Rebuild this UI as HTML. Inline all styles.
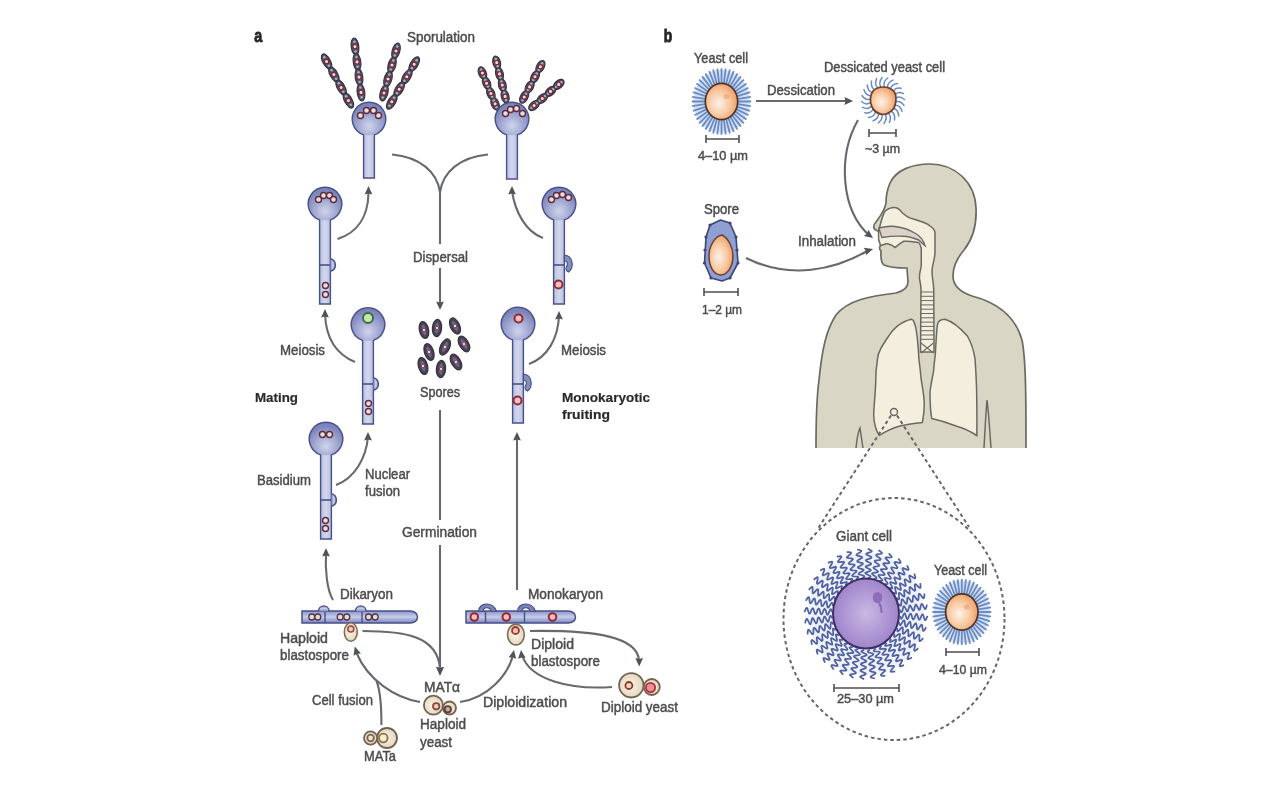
<!DOCTYPE html><html><head><meta charset="utf-8"><style>html,body{margin:0;padding:0;background:#fff;width:1280px;height:800px;overflow:hidden}svg{display:block;filter:blur(0.45px);font-family:"Liberation Sans",sans-serif}</style></head><body>
<svg width="1280" height="800" viewBox="0 0 1280 800">
<defs>
<linearGradient id="stemg" x1="0" x2="1" y1="0" y2="0"><stop offset="0" stop-color="#7d86bc"/><stop offset="0.5" stop-color="#d4d8ee"/><stop offset="1" stop-color="#7d86bc"/></linearGradient>
<radialGradient id="headg" cx="0.5" cy="0.72" r="0.62"><stop offset="0" stop-color="#d0d4ec"/><stop offset="1" stop-color="#7c85bb"/></radialGradient>
<linearGradient id="hyph" x1="0" x2="0" y1="0" y2="1"><stop offset="0" stop-color="#8a93c6"/><stop offset="0.5" stop-color="#c8cdea"/><stop offset="1" stop-color="#7a84bb"/></linearGradient>
<radialGradient id="orang" cx="0.42" cy="0.55" r="0.62"><stop offset="0" stop-color="#fdf2ea"/><stop offset="0.55" stop-color="#f8c8a0"/><stop offset="1" stop-color="#ec9860"/></radialGradient>
<radialGradient id="purp" cx="0.5" cy="0.5" r="0.55"><stop offset="0" stop-color="#cbb8e4"/><stop offset="1" stop-color="#9a80c8"/></radialGradient>
<radialGradient id="beige" cx="0.45" cy="0.5" r="0.6"><stop offset="0" stop-color="#faf4e8"/><stop offset="1" stop-color="#e2d2b8"/></radialGradient>
</defs>

<text x="254.3" y="42.3" font-size="19" font-weight="bold" fill="#262626" stroke="#262626" stroke-width="0.9" textLength="8" lengthAdjust="spacingAndGlyphs">a</text>
<text x="407" y="42.0" font-size="14" font-weight="normal" fill="#4c4c4c" stroke="#4c4c4c" stroke-width="0.45" textLength="68" lengthAdjust="spacingAndGlyphs">Sporulation</text>
<text x="413" y="262.0" font-size="14" font-weight="normal" fill="#4c4c4c" stroke="#4c4c4c" stroke-width="0.45" textLength="55" lengthAdjust="spacingAndGlyphs">Dispersal</text>
<text x="280" y="355.0" font-size="14" font-weight="normal" fill="#4c4c4c" stroke="#4c4c4c" stroke-width="0.45" textLength="45" lengthAdjust="spacingAndGlyphs">Meiosis</text>
<text x="255" y="401.9" font-size="13.5" font-weight="bold" fill="#2a2a2a" stroke="#2a2a2a" stroke-width="0.2" textLength="43" lengthAdjust="spacingAndGlyphs">Mating</text>
<text x="420" y="397.0" font-size="14" font-weight="normal" fill="#4c4c4c" stroke="#4c4c4c" stroke-width="0.45" textLength="40" lengthAdjust="spacingAndGlyphs">Spores</text>
<text x="561" y="355.0" font-size="14" font-weight="normal" fill="#4c4c4c" stroke="#4c4c4c" stroke-width="0.45" textLength="45" lengthAdjust="spacingAndGlyphs">Meiosis</text>
<text x="562" y="401.9" font-size="13.5" font-weight="bold" fill="#2a2a2a" stroke="#2a2a2a" stroke-width="0.2" textLength="88" lengthAdjust="spacingAndGlyphs">Monokaryotic</text>
<text x="562" y="418.9" font-size="13.5" font-weight="bold" fill="#2a2a2a" stroke="#2a2a2a" stroke-width="0.2" textLength="48" lengthAdjust="spacingAndGlyphs">fruiting</text>
<text x="257" y="485.0" font-size="14" font-weight="normal" fill="#4c4c4c" stroke="#4c4c4c" stroke-width="0.45" textLength="54" lengthAdjust="spacingAndGlyphs">Basidium</text>
<text x="365" y="479.0" font-size="14" font-weight="normal" fill="#4c4c4c" stroke="#4c4c4c" stroke-width="0.45" textLength="45" lengthAdjust="spacingAndGlyphs">Nuclear</text>
<text x="365" y="496.0" font-size="14" font-weight="normal" fill="#4c4c4c" stroke="#4c4c4c" stroke-width="0.45" textLength="35" lengthAdjust="spacingAndGlyphs">fusion</text>
<text x="402" y="537.0" font-size="14" font-weight="normal" fill="#4c4c4c" stroke="#4c4c4c" stroke-width="0.45" textLength="75" lengthAdjust="spacingAndGlyphs">Germination</text>
<text x="340" y="599.0" font-size="14" font-weight="normal" fill="#4c4c4c" stroke="#4c4c4c" stroke-width="0.45" textLength="53" lengthAdjust="spacingAndGlyphs">Dikaryon</text>
<text x="528" y="599.0" font-size="14" font-weight="normal" fill="#4c4c4c" stroke="#4c4c4c" stroke-width="0.45" textLength="75" lengthAdjust="spacingAndGlyphs">Monokaryon</text>
<text x="280" y="643.0" font-size="14" font-weight="normal" fill="#4c4c4c" stroke="#4c4c4c" stroke-width="0.45" textLength="48" lengthAdjust="spacingAndGlyphs">Haploid</text>
<text x="280" y="660.0" font-size="14" font-weight="normal" fill="#4c4c4c" stroke="#4c4c4c" stroke-width="0.45" textLength="69" lengthAdjust="spacingAndGlyphs">blastospore</text>
<text x="531" y="649.0" font-size="14" font-weight="normal" fill="#4c4c4c" stroke="#4c4c4c" stroke-width="0.45" textLength="43" lengthAdjust="spacingAndGlyphs">Diploid</text>
<text x="531" y="666.0" font-size="14" font-weight="normal" fill="#4c4c4c" stroke="#4c4c4c" stroke-width="0.45" textLength="69" lengthAdjust="spacingAndGlyphs">blastospore</text>
<text x="424" y="692.0" font-size="14" font-weight="normal" fill="#4c4c4c" stroke="#4c4c4c" stroke-width="0.45" textLength="36" lengthAdjust="spacingAndGlyphs">MATα</text>
<text x="312" y="705.0" font-size="14" font-weight="normal" fill="#4c4c4c" stroke="#4c4c4c" stroke-width="0.45" textLength="61" lengthAdjust="spacingAndGlyphs">Cell fusion</text>
<text x="483" y="707.0" font-size="14" font-weight="normal" fill="#4c4c4c" stroke="#4c4c4c" stroke-width="0.45" textLength="84" lengthAdjust="spacingAndGlyphs">Diploidization</text>
<text x="601" y="712.0" font-size="14" font-weight="normal" fill="#4c4c4c" stroke="#4c4c4c" stroke-width="0.45" textLength="77" lengthAdjust="spacingAndGlyphs">Diploid yeast</text>
<text x="420" y="729.0" font-size="14" font-weight="normal" fill="#4c4c4c" stroke="#4c4c4c" stroke-width="0.45" textLength="46" lengthAdjust="spacingAndGlyphs">Haploid</text>
<text x="420" y="747.0" font-size="14" font-weight="normal" fill="#4c4c4c" stroke="#4c4c4c" stroke-width="0.45" textLength="32" lengthAdjust="spacingAndGlyphs">yeast</text>
<text x="364" y="761.0" font-size="14" font-weight="normal" fill="#4c4c4c" stroke="#4c4c4c" stroke-width="0.45" textLength="32" lengthAdjust="spacingAndGlyphs">MATa</text>
<ellipse cx="326.6" cy="61.5" rx="8.4" ry="3.8" transform="rotate(60.9 326.6 61.5)" fill="#544e62" stroke="#35303f" stroke-width="1.1"/>
<ellipse cx="333.9" cy="74.5" rx="8.4" ry="3.8" transform="rotate(60.9 333.9 74.5)" fill="#544e62" stroke="#35303f" stroke-width="1.1"/>
<ellipse cx="341.1" cy="87.5" rx="8.4" ry="3.8" transform="rotate(60.9 341.1 87.5)" fill="#544e62" stroke="#35303f" stroke-width="1.1"/>
<ellipse cx="348.4" cy="100.5" rx="8.4" ry="3.8" transform="rotate(60.9 348.4 100.5)" fill="#544e62" stroke="#35303f" stroke-width="1.1"/>
<circle cx="324.3" cy="57.3" r="1.3" fill="#b0acb8"/>
<circle cx="328.9" cy="65.7" r="1.3" fill="#b0acb8"/>
<circle cx="326.6" cy="61.5" r="2.1" fill="#f0dcdc" stroke="#7a2838" stroke-width="1.1"/>
<circle cx="331.6" cy="70.3" r="1.3" fill="#b0acb8"/>
<circle cx="336.2" cy="78.7" r="1.3" fill="#b0acb8"/>
<circle cx="333.9" cy="74.5" r="2.1" fill="#f0dcdc" stroke="#7a2838" stroke-width="1.1"/>
<circle cx="338.8" cy="83.3" r="1.3" fill="#b0acb8"/>
<circle cx="343.4" cy="91.7" r="1.3" fill="#b0acb8"/>
<circle cx="341.1" cy="87.5" r="2.1" fill="#f0dcdc" stroke="#7a2838" stroke-width="1.1"/>
<circle cx="346.1" cy="96.3" r="1.3" fill="#b0acb8"/>
<circle cx="350.7" cy="104.7" r="1.3" fill="#b0acb8"/>
<circle cx="348.4" cy="100.5" r="2.1" fill="#f0dcdc" stroke="#7a2838" stroke-width="1.1"/>
<ellipse cx="355.0" cy="46.6" rx="8.7" ry="3.8" transform="rotate(82.5 355.0 46.6)" fill="#544e62" stroke="#35303f" stroke-width="1.1"/>
<ellipse cx="357.0" cy="61.9" rx="8.7" ry="3.8" transform="rotate(82.5 357.0 61.9)" fill="#544e62" stroke="#35303f" stroke-width="1.1"/>
<ellipse cx="359.0" cy="77.1" rx="8.7" ry="3.8" transform="rotate(82.5 359.0 77.1)" fill="#544e62" stroke="#35303f" stroke-width="1.1"/>
<ellipse cx="361.0" cy="92.4" rx="8.7" ry="3.8" transform="rotate(82.5 361.0 92.4)" fill="#544e62" stroke="#35303f" stroke-width="1.1"/>
<circle cx="354.4" cy="41.7" r="1.3" fill="#b0acb8"/>
<circle cx="355.6" cy="51.5" r="1.3" fill="#b0acb8"/>
<circle cx="355.0" cy="46.6" r="2.1" fill="#f0dcdc" stroke="#7a2838" stroke-width="1.1"/>
<circle cx="356.4" cy="57.0" r="1.3" fill="#b0acb8"/>
<circle cx="357.6" cy="66.8" r="1.3" fill="#b0acb8"/>
<circle cx="357.0" cy="61.9" r="2.1" fill="#f0dcdc" stroke="#7a2838" stroke-width="1.1"/>
<circle cx="358.4" cy="72.2" r="1.3" fill="#b0acb8"/>
<circle cx="359.6" cy="82.0" r="1.3" fill="#b0acb8"/>
<circle cx="359.0" cy="77.1" r="2.1" fill="#f0dcdc" stroke="#7a2838" stroke-width="1.1"/>
<circle cx="360.4" cy="87.5" r="1.3" fill="#b0acb8"/>
<circle cx="361.6" cy="97.3" r="1.3" fill="#b0acb8"/>
<circle cx="361.0" cy="92.4" r="2.1" fill="#f0dcdc" stroke="#7a2838" stroke-width="1.1"/>
<ellipse cx="396.0" cy="51.0" rx="8.3" ry="3.8" transform="rotate(105.9 396.0 51.0)" fill="#544e62" stroke="#35303f" stroke-width="1.1"/>
<ellipse cx="392.0" cy="65.0" rx="8.3" ry="3.8" transform="rotate(105.9 392.0 65.0)" fill="#544e62" stroke="#35303f" stroke-width="1.1"/>
<ellipse cx="388.0" cy="79.0" rx="8.3" ry="3.8" transform="rotate(105.9 388.0 79.0)" fill="#544e62" stroke="#35303f" stroke-width="1.1"/>
<ellipse cx="384.0" cy="93.0" rx="8.3" ry="3.8" transform="rotate(105.9 384.0 93.0)" fill="#544e62" stroke="#35303f" stroke-width="1.1"/>
<circle cx="397.3" cy="46.5" r="1.3" fill="#b0acb8"/>
<circle cx="394.7" cy="55.5" r="1.3" fill="#b0acb8"/>
<circle cx="396.0" cy="51.0" r="2.1" fill="#f0dcdc" stroke="#7a2838" stroke-width="1.1"/>
<circle cx="393.3" cy="60.5" r="1.3" fill="#b0acb8"/>
<circle cx="390.7" cy="69.5" r="1.3" fill="#b0acb8"/>
<circle cx="392.0" cy="65.0" r="2.1" fill="#f0dcdc" stroke="#7a2838" stroke-width="1.1"/>
<circle cx="389.3" cy="74.5" r="1.3" fill="#b0acb8"/>
<circle cx="386.7" cy="83.5" r="1.3" fill="#b0acb8"/>
<circle cx="388.0" cy="79.0" r="2.1" fill="#f0dcdc" stroke="#7a2838" stroke-width="1.1"/>
<circle cx="385.3" cy="88.5" r="1.3" fill="#b0acb8"/>
<circle cx="382.7" cy="97.5" r="1.3" fill="#b0acb8"/>
<circle cx="384.0" cy="93.0" r="2.1" fill="#f0dcdc" stroke="#7a2838" stroke-width="1.1"/>
<ellipse cx="414.2" cy="64.2" rx="8.3" ry="3.8" transform="rotate(121.0 414.2 64.2)" fill="#544e62" stroke="#35303f" stroke-width="1.1"/>
<ellipse cx="406.8" cy="76.8" rx="8.3" ry="3.8" transform="rotate(121.0 406.8 76.8)" fill="#544e62" stroke="#35303f" stroke-width="1.1"/>
<ellipse cx="399.2" cy="89.2" rx="8.3" ry="3.8" transform="rotate(121.0 399.2 89.2)" fill="#544e62" stroke="#35303f" stroke-width="1.1"/>
<ellipse cx="391.8" cy="101.8" rx="8.3" ry="3.8" transform="rotate(121.0 391.8 101.8)" fill="#544e62" stroke="#35303f" stroke-width="1.1"/>
<circle cx="416.6" cy="60.2" r="1.3" fill="#b0acb8"/>
<circle cx="411.9" cy="68.2" r="1.3" fill="#b0acb8"/>
<circle cx="414.2" cy="64.2" r="2.1" fill="#f0dcdc" stroke="#7a2838" stroke-width="1.1"/>
<circle cx="409.1" cy="72.8" r="1.3" fill="#b0acb8"/>
<circle cx="404.4" cy="80.8" r="1.3" fill="#b0acb8"/>
<circle cx="406.8" cy="76.8" r="2.1" fill="#f0dcdc" stroke="#7a2838" stroke-width="1.1"/>
<circle cx="401.6" cy="85.2" r="1.3" fill="#b0acb8"/>
<circle cx="396.9" cy="93.2" r="1.3" fill="#b0acb8"/>
<circle cx="399.2" cy="89.2" r="2.1" fill="#f0dcdc" stroke="#7a2838" stroke-width="1.1"/>
<circle cx="394.1" cy="97.8" r="1.3" fill="#b0acb8"/>
<circle cx="389.4" cy="105.8" r="1.3" fill="#b0acb8"/>
<circle cx="391.8" cy="101.8" r="2.1" fill="#f0dcdc" stroke="#7a2838" stroke-width="1.1"/>
<path d="M363.6,178 L363.6,134.9 A16.8,16.8 0 1 1 374.4,134.9 L374.4,178 Z" fill="url(#stemg)" stroke="none"/>
<circle cx="369" cy="119" r="16.3" fill="url(#headg)"/>
<path d="M363.6,178 L363.6,134.9 A16.8,16.8 0 1 1 374.4,134.9 L374.4,178 Z" fill="none" stroke="#48508a" stroke-width="1.4"/>
<circle cx="360.5" cy="115.5" r="3" fill="#e6dede" stroke="#5e2a3c" stroke-width="1.4"/>
<circle cx="366.5" cy="110.5" r="3" fill="#e6dede" stroke="#5e2a3c" stroke-width="1.4"/>
<circle cx="373.5" cy="110.5" r="3" fill="#e6dede" stroke="#5e2a3c" stroke-width="1.4"/>
<circle cx="378.5" cy="115.5" r="3" fill="#e6dede" stroke="#5e2a3c" stroke-width="1.4"/>
<ellipse cx="482.4" cy="73.0" rx="6.6" ry="3.8" transform="rotate(67.7 482.4 73.0)" fill="#544e62" stroke="#35303f" stroke-width="1.1"/>
<ellipse cx="486.6" cy="83.2" rx="6.6" ry="3.8" transform="rotate(67.7 486.6 83.2)" fill="#544e62" stroke="#35303f" stroke-width="1.1"/>
<ellipse cx="490.9" cy="93.5" rx="6.6" ry="3.8" transform="rotate(67.7 490.9 93.5)" fill="#544e62" stroke="#35303f" stroke-width="1.1"/>
<ellipse cx="495.1" cy="103.8" rx="6.6" ry="3.8" transform="rotate(67.7 495.1 103.8)" fill="#544e62" stroke="#35303f" stroke-width="1.1"/>
<circle cx="481.1" cy="69.7" r="1.3" fill="#b0acb8"/>
<circle cx="483.8" cy="76.2" r="1.3" fill="#b0acb8"/>
<circle cx="482.4" cy="73.0" r="2.1" fill="#f0dcdc" stroke="#7a2838" stroke-width="1.1"/>
<circle cx="485.3" cy="80.0" r="1.3" fill="#b0acb8"/>
<circle cx="488.0" cy="86.5" r="1.3" fill="#b0acb8"/>
<circle cx="486.6" cy="83.2" r="2.1" fill="#f0dcdc" stroke="#7a2838" stroke-width="1.1"/>
<circle cx="489.5" cy="90.3" r="1.3" fill="#b0acb8"/>
<circle cx="492.2" cy="96.8" r="1.3" fill="#b0acb8"/>
<circle cx="490.9" cy="93.5" r="2.1" fill="#f0dcdc" stroke="#7a2838" stroke-width="1.1"/>
<circle cx="493.7" cy="100.6" r="1.3" fill="#b0acb8"/>
<circle cx="496.4" cy="107.1" r="1.3" fill="#b0acb8"/>
<circle cx="495.1" cy="103.8" r="2.1" fill="#f0dcdc" stroke="#7a2838" stroke-width="1.1"/>
<ellipse cx="496.7" cy="62.6" rx="6.8" ry="3.8" transform="rotate(76.0 496.7 62.6)" fill="#544e62" stroke="#35303f" stroke-width="1.1"/>
<ellipse cx="499.5" cy="73.9" rx="6.8" ry="3.8" transform="rotate(76.0 499.5 73.9)" fill="#544e62" stroke="#35303f" stroke-width="1.1"/>
<ellipse cx="502.3" cy="85.1" rx="6.8" ry="3.8" transform="rotate(76.0 502.3 85.1)" fill="#544e62" stroke="#35303f" stroke-width="1.1"/>
<ellipse cx="505.1" cy="96.4" rx="6.8" ry="3.8" transform="rotate(76.0 505.1 96.4)" fill="#544e62" stroke="#35303f" stroke-width="1.1"/>
<circle cx="495.8" cy="59.0" r="1.3" fill="#b0acb8"/>
<circle cx="497.6" cy="66.2" r="1.3" fill="#b0acb8"/>
<circle cx="496.7" cy="62.6" r="2.1" fill="#f0dcdc" stroke="#7a2838" stroke-width="1.1"/>
<circle cx="498.6" cy="70.3" r="1.3" fill="#b0acb8"/>
<circle cx="500.4" cy="77.5" r="1.3" fill="#b0acb8"/>
<circle cx="499.5" cy="73.9" r="2.1" fill="#f0dcdc" stroke="#7a2838" stroke-width="1.1"/>
<circle cx="501.4" cy="81.5" r="1.3" fill="#b0acb8"/>
<circle cx="503.2" cy="88.7" r="1.3" fill="#b0acb8"/>
<circle cx="502.3" cy="85.1" r="2.1" fill="#f0dcdc" stroke="#7a2838" stroke-width="1.1"/>
<circle cx="504.2" cy="92.8" r="1.3" fill="#b0acb8"/>
<circle cx="506.0" cy="100.0" r="1.3" fill="#b0acb8"/>
<circle cx="505.1" cy="96.4" r="2.1" fill="#f0dcdc" stroke="#7a2838" stroke-width="1.1"/>
<ellipse cx="540.4" cy="66.7" rx="6.7" ry="3.8" transform="rotate(118.2 540.4 66.7)" fill="#544e62" stroke="#35303f" stroke-width="1.1"/>
<ellipse cx="535.0" cy="76.8" rx="6.7" ry="3.8" transform="rotate(118.2 535.0 76.8)" fill="#544e62" stroke="#35303f" stroke-width="1.1"/>
<ellipse cx="529.6" cy="86.9" rx="6.7" ry="3.8" transform="rotate(118.2 529.6 86.9)" fill="#544e62" stroke="#35303f" stroke-width="1.1"/>
<ellipse cx="524.2" cy="97.0" rx="6.7" ry="3.8" transform="rotate(118.2 524.2 97.0)" fill="#544e62" stroke="#35303f" stroke-width="1.1"/>
<circle cx="542.1" cy="63.5" r="1.3" fill="#b0acb8"/>
<circle cx="538.7" cy="70.0" r="1.3" fill="#b0acb8"/>
<circle cx="540.4" cy="66.7" r="2.1" fill="#f0dcdc" stroke="#7a2838" stroke-width="1.1"/>
<circle cx="536.7" cy="73.6" r="1.3" fill="#b0acb8"/>
<circle cx="533.3" cy="80.0" r="1.3" fill="#b0acb8"/>
<circle cx="535.0" cy="76.8" r="2.1" fill="#f0dcdc" stroke="#7a2838" stroke-width="1.1"/>
<circle cx="531.3" cy="83.7" r="1.3" fill="#b0acb8"/>
<circle cx="527.9" cy="90.1" r="1.3" fill="#b0acb8"/>
<circle cx="529.6" cy="86.9" r="2.1" fill="#f0dcdc" stroke="#7a2838" stroke-width="1.1"/>
<circle cx="525.9" cy="93.7" r="1.3" fill="#b0acb8"/>
<circle cx="522.5" cy="100.2" r="1.3" fill="#b0acb8"/>
<circle cx="524.2" cy="97.0" r="2.1" fill="#f0dcdc" stroke="#7a2838" stroke-width="1.1"/>
<ellipse cx="558.7" cy="84.4" rx="6.4" ry="3.8" transform="rotate(139.4 558.7 84.4)" fill="#544e62" stroke="#35303f" stroke-width="1.1"/>
<ellipse cx="550.5" cy="91.4" rx="6.4" ry="3.8" transform="rotate(139.4 550.5 91.4)" fill="#544e62" stroke="#35303f" stroke-width="1.1"/>
<ellipse cx="542.3" cy="98.5" rx="6.4" ry="3.8" transform="rotate(139.4 542.3 98.5)" fill="#544e62" stroke="#35303f" stroke-width="1.1"/>
<ellipse cx="534.1" cy="105.5" rx="6.4" ry="3.8" transform="rotate(139.4 534.1 105.5)" fill="#544e62" stroke="#35303f" stroke-width="1.1"/>
<circle cx="561.3" cy="82.2" r="1.3" fill="#b0acb8"/>
<circle cx="556.1" cy="86.7" r="1.3" fill="#b0acb8"/>
<circle cx="558.7" cy="84.4" r="2.1" fill="#f0dcdc" stroke="#7a2838" stroke-width="1.1"/>
<circle cx="553.1" cy="89.2" r="1.3" fill="#b0acb8"/>
<circle cx="547.9" cy="93.7" r="1.3" fill="#b0acb8"/>
<circle cx="550.5" cy="91.4" r="2.1" fill="#f0dcdc" stroke="#7a2838" stroke-width="1.1"/>
<circle cx="544.9" cy="96.2" r="1.3" fill="#b0acb8"/>
<circle cx="539.7" cy="100.7" r="1.3" fill="#b0acb8"/>
<circle cx="542.3" cy="98.5" r="2.1" fill="#f0dcdc" stroke="#7a2838" stroke-width="1.1"/>
<circle cx="536.7" cy="103.2" r="1.3" fill="#b0acb8"/>
<circle cx="531.5" cy="107.7" r="1.3" fill="#b0acb8"/>
<circle cx="534.1" cy="105.5" r="2.1" fill="#f0dcdc" stroke="#7a2838" stroke-width="1.1"/>
<path d="M506.6,179 L506.6,134.9 A16.8,16.8 0 1 1 517.4,134.9 L517.4,179 Z" fill="url(#stemg)" stroke="none"/>
<circle cx="512" cy="119" r="16.3" fill="url(#headg)"/>
<path d="M506.6,179 L506.6,134.9 A16.8,16.8 0 1 1 517.4,134.9 L517.4,179 Z" fill="none" stroke="#48508a" stroke-width="1.4"/>
<circle cx="505.5" cy="113.5" r="3" fill="#e6dede" stroke="#5e2a3c" stroke-width="1.4"/>
<circle cx="510.5" cy="109.5" r="3" fill="#e6dede" stroke="#5e2a3c" stroke-width="1.4"/>
<circle cx="516.5" cy="108.5" r="3" fill="#e6dede" stroke="#5e2a3c" stroke-width="1.4"/>
<circle cx="522.5" cy="113.5" r="3" fill="#e6dede" stroke="#5e2a3c" stroke-width="1.4"/>
<path d="M392,154.5 C420,157 437,172 440,192 C443,172 460,157 488,154.5" fill="none" stroke="#66696d" stroke-width="2.1"/>
<line x1="440" y1="190" x2="440" y2="244" stroke="#66696d" stroke-width="2.1"/>
<path d="M440,268 L440,306" fill="none" stroke="#66696d" stroke-width="2.1" stroke-linecap="butt"/>
<path d="M440.0,310.0 L436.1,301.5 L440.0,302.5 L443.9,301.5 Z" fill="#505458"/>
<path d="M319.6,304 L319.6,219.9 A16.8,16.8 0 1 1 330.4,219.9 L330.4,304 Z" fill="url(#stemg)" stroke="none"/>
<circle cx="325" cy="204" r="16.3" fill="url(#headg)"/>
<path d="M319.6,304 L319.6,219.9 A16.8,16.8 0 1 1 330.4,219.9 L330.4,304 Z" fill="none" stroke="#48508a" stroke-width="1.4"/>
<line x1="319.6" y1="265" x2="330.4" y2="265" stroke="#48508a" stroke-width="1.6"/>
<path d="M330.4,259 A5,6 0 0 1 330.4,271" fill="url(#stemg)" stroke="#48508a" stroke-width="1.5"/>
<circle cx="318.5" cy="199.5" r="3" fill="#e6dede" stroke="#5e2a3c" stroke-width="1.4"/>
<circle cx="323.5" cy="195.5" r="3" fill="#e6dede" stroke="#5e2a3c" stroke-width="1.4"/>
<circle cx="329.5" cy="195.5" r="3" fill="#e6dede" stroke="#5e2a3c" stroke-width="1.4"/>
<circle cx="333.5" cy="199.5" r="3" fill="#e6dede" stroke="#5e2a3c" stroke-width="1.4"/>
<circle cx="325.5" cy="285.5" r="3" fill="#e6dede" stroke="#5e2a3c" stroke-width="1.4"/>
<circle cx="325.5" cy="294.5" r="3" fill="#e6dede" stroke="#5e2a3c" stroke-width="1.4"/>
<path d="M362.6,424 L362.6,340.4 A16.8,16.8 0 1 1 373.4,340.4 L373.4,424 Z" fill="url(#stemg)" stroke="none"/>
<circle cx="368" cy="324.5" r="16.3" fill="url(#headg)"/>
<path d="M362.6,424 L362.6,340.4 A16.8,16.8 0 1 1 373.4,340.4 L373.4,424 Z" fill="none" stroke="#48508a" stroke-width="1.4"/>
<line x1="362.6" y1="384" x2="373.4" y2="384" stroke="#48508a" stroke-width="1.6"/>
<path d="M373.4,378 A5,6 0 0 1 373.4,390" fill="url(#stemg)" stroke="#48508a" stroke-width="1.5"/>
<circle cx="368" cy="318" r="5" fill="#c4e8a8" stroke="#3f6a48" stroke-width="2"/>
<circle cx="368.5" cy="403.5" r="3" fill="#e6dede" stroke="#5e2a3c" stroke-width="1.4"/>
<circle cx="368.5" cy="411.5" r="3" fill="#e6dede" stroke="#5e2a3c" stroke-width="1.4"/>
<path d="M320.6,539 L320.6,454.9 A16.8,16.8 0 1 1 331.4,454.9 L331.4,539 Z" fill="url(#stemg)" stroke="none"/>
<circle cx="326" cy="439" r="16.3" fill="url(#headg)"/>
<path d="M320.6,539 L320.6,454.9 A16.8,16.8 0 1 1 331.4,454.9 L331.4,539 Z" fill="none" stroke="#48508a" stroke-width="1.4"/>
<line x1="320.6" y1="500" x2="331.4" y2="500" stroke="#48508a" stroke-width="1.6"/>
<path d="M331.4,494 A5,6 0 0 1 331.4,506" fill="url(#stemg)" stroke="#48508a" stroke-width="1.5"/>
<circle cx="322.5" cy="434.5" r="3" fill="#e6dede" stroke="#5e2a3c" stroke-width="1.4"/>
<circle cx="329.5" cy="434.5" r="3" fill="#e6dede" stroke="#5e2a3c" stroke-width="1.4"/>
<circle cx="325.5" cy="520.5" r="3" fill="#e6dede" stroke="#5e2a3c" stroke-width="1.4"/>
<circle cx="325.5" cy="528.5" r="3" fill="#e6dede" stroke="#5e2a3c" stroke-width="1.4"/>
<path d="M553.6,304 L553.6,219.9 A16.8,16.8 0 1 1 564.4,219.9 L564.4,304 Z" fill="url(#stemg)" stroke="none"/>
<circle cx="559" cy="204" r="16.3" fill="url(#headg)"/>
<path d="M553.6,304 L553.6,219.9 A16.8,16.8 0 1 1 564.4,219.9 L564.4,304 Z" fill="none" stroke="#48508a" stroke-width="1.4"/>
<line x1="553.6" y1="265" x2="564.4" y2="265" stroke="#48508a" stroke-width="1.6"/>
<path d="M564.4,255 C573.4,256 574.4,268 568.4,272 C566.4,271 565.4,269 566.4,267 C568.4,264 567.4,261 564.4,261 Z" fill="#858dbd" stroke="#48508a" stroke-width="1.2"/>
<circle cx="551.5" cy="199.5" r="3" fill="#e6dede" stroke="#5e2a3c" stroke-width="1.4"/>
<circle cx="556.5" cy="195.5" r="3" fill="#e6dede" stroke="#5e2a3c" stroke-width="1.4"/>
<circle cx="562.5" cy="194.5" r="3" fill="#e6dede" stroke="#5e2a3c" stroke-width="1.4"/>
<circle cx="568.5" cy="197.5" r="3" fill="#e6dede" stroke="#5e2a3c" stroke-width="1.4"/>
<circle cx="558.5" cy="284.5" r="4" fill="#f4c0bc" stroke="#922838" stroke-width="2"/>
<path d="M512.6,423 L512.6,339.9 A16.8,16.8 0 1 1 523.4,339.9 L523.4,423 Z" fill="url(#stemg)" stroke="none"/>
<circle cx="518" cy="324" r="16.3" fill="url(#headg)"/>
<path d="M512.6,423 L512.6,339.9 A16.8,16.8 0 1 1 523.4,339.9 L523.4,423 Z" fill="none" stroke="#48508a" stroke-width="1.4"/>
<line x1="512.6" y1="384" x2="523.4" y2="384" stroke="#48508a" stroke-width="1.6"/>
<path d="M523.4,374 C532.4,375 533.4,387 527.4,391 C525.4,390 524.4,388 525.4,386 C527.4,383 526.4,380 523.4,380 Z" fill="#858dbd" stroke="#48508a" stroke-width="1.2"/>
<circle cx="518.5" cy="318.5" r="4" fill="#f4c0bc" stroke="#922838" stroke-width="2"/>
<circle cx="517.5" cy="400.5" r="4" fill="#f4c0bc" stroke="#922838" stroke-width="2"/>
<path d="M337.5,239 C357,233 368,217 368.5,193" fill="none" stroke="#66696d" stroke-width="2.1" stroke-linecap="butt"/>
<path d="M368.5,186.0 L372.4,194.5 L368.5,193.5 L364.6,194.5 Z" fill="#505458"/>
<path d="M355,362 C338,355 326,340 325,314" fill="none" stroke="#66696d" stroke-width="2.1" stroke-linecap="butt"/>
<path d="M325.0,309.0 L328.9,317.5 L325.0,316.5 L321.1,317.5 Z" fill="#505458"/>
<path d="M336,485 C355,478 366,458 368,437" fill="none" stroke="#66696d" stroke-width="2.1" stroke-linecap="butt"/>
<path d="M368.0,432.0 L371.9,440.5 L368.0,439.5 L364.1,440.5 Z" fill="#505458"/>
<path d="M333,600 C327,590 325,570 326,553" fill="none" stroke="#66696d" stroke-width="2.1" stroke-linecap="butt"/>
<path d="M326.0,548.0 L329.9,556.5 L326.0,555.5 L322.1,556.5 Z" fill="#505458"/>
<path d="M543,238 C526,232 515,212 512,191" fill="none" stroke="#66696d" stroke-width="2.1" stroke-linecap="butt"/>
<path d="M512.0,186.0 L515.9,194.5 L512.0,193.5 L508.1,194.5 Z" fill="#505458"/>
<path d="M529,364 C548,357 558,338 559,316" fill="none" stroke="#66696d" stroke-width="2.1" stroke-linecap="butt"/>
<path d="M559.0,311.0 L562.9,319.5 L559.0,318.5 L555.1,319.5 Z" fill="#505458"/>
<path d="M517,590 L517,437" fill="none" stroke="#66696d" stroke-width="2.1" stroke-linecap="butt"/>
<path d="M517.0,432.0 L520.9,440.5 L517.0,439.5 L513.1,440.5 Z" fill="#505458"/>
<line x1="440" y1="410" x2="440" y2="520" stroke="#66696d" stroke-width="2.1"/>
<path d="M440,545 L440,670" fill="none" stroke="#66696d" stroke-width="2.1" stroke-linecap="butt"/>
<path d="M440.0,675.5 L436.1,667.0 L440.0,668.0 L443.9,667.0 Z" fill="#505458"/>
<g transform="rotate(-12 424 330)"><ellipse cx="424" cy="330" rx="4.6" ry="8.6" fill="#4a4256" stroke="#342e3e" stroke-width="1.2"/><ellipse cx="424" cy="330" rx="2" ry="5.5" fill="#6e6880"/><circle cx="424" cy="330" r="1.6" fill="#e8e0e8" stroke="#7a3040" stroke-width="0.8"/></g>
<g transform="rotate(5 437 328)"><ellipse cx="437" cy="328" rx="4.6" ry="8.6" fill="#4a4256" stroke="#342e3e" stroke-width="1.2"/><ellipse cx="437" cy="328" rx="2" ry="5.5" fill="#6e6880"/><circle cx="437" cy="328" r="1.6" fill="#e8e0e8" stroke="#7a3040" stroke-width="0.8"/></g>
<g transform="rotate(-25 455 326)"><ellipse cx="455" cy="326" rx="4.6" ry="8.6" fill="#4a4256" stroke="#342e3e" stroke-width="1.2"/><ellipse cx="455" cy="326" rx="2" ry="5.5" fill="#6e6880"/><circle cx="455" cy="326" r="1.6" fill="#e8e0e8" stroke="#7a3040" stroke-width="0.8"/></g>
<g transform="rotate(25 445 347)"><ellipse cx="445" cy="347" rx="4.6" ry="8.6" fill="#4a4256" stroke="#342e3e" stroke-width="1.2"/><ellipse cx="445" cy="347" rx="2" ry="5.5" fill="#6e6880"/><circle cx="445" cy="347" r="1.6" fill="#e8e0e8" stroke="#7a3040" stroke-width="0.8"/></g>
<g transform="rotate(-30 464 344)"><ellipse cx="464" cy="344" rx="4.6" ry="8.6" fill="#4a4256" stroke="#342e3e" stroke-width="1.2"/><ellipse cx="464" cy="344" rx="2" ry="5.5" fill="#6e6880"/><circle cx="464" cy="344" r="1.6" fill="#e8e0e8" stroke="#7a3040" stroke-width="0.8"/></g>
<g transform="rotate(-18 429 352)"><ellipse cx="429" cy="352" rx="4.6" ry="8.6" fill="#4a4256" stroke="#342e3e" stroke-width="1.2"/><ellipse cx="429" cy="352" rx="2" ry="5.5" fill="#6e6880"/><circle cx="429" cy="352" r="1.6" fill="#e8e0e8" stroke="#7a3040" stroke-width="0.8"/></g>
<g transform="rotate(-15 423 366)"><ellipse cx="423" cy="366" rx="4.6" ry="8.6" fill="#4a4256" stroke="#342e3e" stroke-width="1.2"/><ellipse cx="423" cy="366" rx="2" ry="5.5" fill="#6e6880"/><circle cx="423" cy="366" r="1.6" fill="#e8e0e8" stroke="#7a3040" stroke-width="0.8"/></g>
<g transform="rotate(5 441 369)"><ellipse cx="441" cy="369" rx="4.6" ry="8.6" fill="#4a4256" stroke="#342e3e" stroke-width="1.2"/><ellipse cx="441" cy="369" rx="2" ry="5.5" fill="#6e6880"/><circle cx="441" cy="369" r="1.6" fill="#e8e0e8" stroke="#7a3040" stroke-width="0.8"/></g>
<g transform="rotate(-30 456 362)"><ellipse cx="456" cy="362" rx="4.6" ry="8.6" fill="#4a4256" stroke="#342e3e" stroke-width="1.2"/><ellipse cx="456" cy="362" rx="2" ry="5.5" fill="#6e6880"/><circle cx="456" cy="362" r="1.6" fill="#e8e0e8" stroke="#7a3040" stroke-width="0.8"/></g>
<path d="M302,611 L410,611 C420,611 420,623 410,623 L302,623 Z" fill="url(#hyph)" stroke="#48508a" stroke-width="1.5"/>
<line x1="325" y1="611" x2="325" y2="623" stroke="#48508a" stroke-width="1.4"/>
<path d="M318.5,611.5 C318.5,604 329,604 329,611.5" fill="url(#hyph)" stroke="#48508a" stroke-width="1.4"/>
<line x1="362" y1="611" x2="362" y2="623" stroke="#48508a" stroke-width="1.4"/>
<path d="M355.5,611.5 C355.5,604 366,604 366,611.5" fill="url(#hyph)" stroke="#48508a" stroke-width="1.4"/>
<circle cx="311.8" cy="617" r="3" fill="#e6dcd0" stroke="#4e3450" stroke-width="1.3"/>
<circle cx="317.8" cy="617" r="3" fill="#e6dcd0" stroke="#4e3450" stroke-width="1.3"/>
<circle cx="340.2" cy="617" r="3" fill="#e6dcd0" stroke="#4e3450" stroke-width="1.3"/>
<circle cx="346.8" cy="617" r="3" fill="#e6dcd0" stroke="#4e3450" stroke-width="1.3"/>
<circle cx="368.6" cy="617" r="3" fill="#e6dcd0" stroke="#4e3450" stroke-width="1.3"/>
<circle cx="375.2" cy="617" r="3" fill="#e6dcd0" stroke="#4e3450" stroke-width="1.3"/>
<path d="M466,611 L568,611 C578,611 578,623 568,623 L466,623 Z" fill="url(#hyph)" stroke="#48508a" stroke-width="1.5"/>
<line x1="485.5" y1="611" x2="485.5" y2="623" stroke="#48508a" stroke-width="1.4"/>
<path d="M478.5,611.5 C478.5,602 493.5,601 496.5,611.5 L491.5,611.5 C489.5,606.5 483.5,606.5 483.0,611.5 Z" fill="#7a82b2" stroke="#48508a" stroke-width="1.2"/>
<line x1="524.5" y1="611" x2="524.5" y2="623" stroke="#48508a" stroke-width="1.4"/>
<path d="M517.5,611.5 C517.5,602 532.5,601 535.5,611.5 L530.5,611.5 C528.5,606.5 522.5,606.5 522.0,611.5 Z" fill="#7a82b2" stroke="#48508a" stroke-width="1.2"/>
<circle cx="474.3" cy="617" r="3.8" fill="#f4c0bc" stroke="#922838" stroke-width="2"/>
<circle cx="506.3" cy="617" r="3.8" fill="#f4c0bc" stroke="#922838" stroke-width="2"/>
<circle cx="552.5" cy="617" r="3.8" fill="#f4c0bc" stroke="#922838" stroke-width="2"/>
<ellipse cx="350.8" cy="632" rx="6.5" ry="9.3" fill="url(#beige)" stroke="#806a58" stroke-width="1.5"/>
<circle cx="350.8" cy="629" r="3" fill="#f0c8c0" stroke="#9a4a3a" stroke-width="1.5"/>
<ellipse cx="515.9" cy="634.6" rx="8.4" ry="10.3" fill="url(#beige)" stroke="#806a58" stroke-width="1.6"/>
<circle cx="515.5" cy="630.5" r="3.5" fill="#f0c0b8" stroke="#9a3a30" stroke-width="1.8"/>
<path d="M362.5,631 C405,631 437,636 440,668" fill="none" stroke="#66696d" stroke-width="2.1" stroke-linecap="butt"/>
<path d="M440.0,675.5 L436.1,667.0 L440.0,668.0 L443.9,667.0 Z" fill="#505458"/>
<path d="M420,702 C395,698 368,680 356.5,653" fill="none" stroke="#66696d" stroke-width="2.1" stroke-linecap="butt"/>
<path d="M354.8,646.5 L361.0,653.5 L356.9,653.7 L353.5,655.8 Z" fill="#505458"/>
<path d="M381.4,725 C381.5,705 380,690 376.5,681" fill="none" stroke="#66696d" stroke-width="2.1"/>
<path d="M460,702 C488,698 508,675 513,655" fill="none" stroke="#66696d" stroke-width="2.1" stroke-linecap="butt"/>
<path d="M514.0,650.0 L516.2,659.1 L512.5,657.3 L508.5,657.6 Z" fill="#505458"/>
<path d="M530,631 C600,630 637,638 639,660" fill="none" stroke="#66696d" stroke-width="2.1" stroke-linecap="butt"/>
<path d="M639.2,666.5 L635.3,658.0 L639.2,659.0 L643.1,658.0 Z" fill="#505458"/>
<path d="M612,687 C570,690 530,680 522,655" fill="none" stroke="#66696d" stroke-width="2.1" stroke-linecap="butt"/>
<path d="M521.0,650.0 L525.7,658.1 L521.7,657.4 L518.0,658.8 Z" fill="#505458"/>
<circle cx="433.4" cy="705.2" r="9.5" fill="url(#beige)" stroke="#716252" stroke-width="1.8"/>
<circle cx="436.2" cy="706.3" r="3.2" fill="#f0d0c0" stroke="#8a4a38" stroke-width="1.8"/>
<circle cx="449.5" cy="708" r="6.5" fill="url(#beige)" stroke="#716252" stroke-width="1.8"/>
<circle cx="447.8" cy="709.3" r="3.2" fill="#c8a898" stroke="#5a4038" stroke-width="1.8"/>
<circle cx="631.3" cy="685.3" r="12.2" fill="url(#beige)" stroke="#716252" stroke-width="1.8"/>
<circle cx="628.9" cy="685.5" r="3.5" fill="#f4d0c0" stroke="#8a3a2a" stroke-width="1.8"/>
<circle cx="651.75" cy="687" r="8" fill="url(#beige)" stroke="#716252" stroke-width="1.8"/>
<circle cx="650.5" cy="687.5" r="4.6" fill="#f09090" stroke="#a83040" stroke-width="1.8"/>
<circle cx="387" cy="738" r="10" fill="url(#beige)" stroke="#716252" stroke-width="1.8"/>
<circle cx="383.3" cy="738" r="4.3" fill="#f6ecc8" stroke="#8a7050" stroke-width="1.8"/>
<circle cx="370.6" cy="738" r="6.6" fill="url(#beige)" stroke="#716252" stroke-width="1.8"/>
<circle cx="370.6" cy="738" r="3.3" fill="#f0e4d0" stroke="#7a6450" stroke-width="1.8"/>
<text x="663.8" y="42.2" font-size="19" font-weight="bold" fill="#262626" stroke="#262626" stroke-width="0.9" textLength="8.5" lengthAdjust="spacingAndGlyphs">b</text>
<text x="694" y="63.0" font-size="14" font-weight="normal" fill="#4c4c4c" stroke="#4c4c4c" stroke-width="0.45" textLength="54" lengthAdjust="spacingAndGlyphs">Yeast cell</text>
<text x="824" y="72.0" font-size="14" font-weight="normal" fill="#4c4c4c" stroke="#4c4c4c" stroke-width="0.45" textLength="121" lengthAdjust="spacingAndGlyphs">Dessicated yeast cell</text>
<text x="767" y="95.0" font-size="14" font-weight="normal" fill="#4c4c4c" stroke="#4c4c4c" stroke-width="0.45" textLength="68" lengthAdjust="spacingAndGlyphs">Dessication</text>
<text x="698" y="159.7" font-size="13" font-weight="normal" fill="#4c4c4c" stroke="#4c4c4c" stroke-width="0.45" textLength="50" lengthAdjust="spacingAndGlyphs">4–10 µm</text>
<text x="865" y="152.7" font-size="13" font-weight="normal" fill="#4c4c4c" stroke="#4c4c4c" stroke-width="0.45" textLength="35" lengthAdjust="spacingAndGlyphs">~3 µm</text>
<text x="704" y="214.0" font-size="14" font-weight="normal" fill="#4c4c4c" stroke="#4c4c4c" stroke-width="0.45" textLength="35" lengthAdjust="spacingAndGlyphs">Spore</text>
<text x="798" y="246.0" font-size="14" font-weight="normal" fill="#4c4c4c" stroke="#4c4c4c" stroke-width="0.45" textLength="58" lengthAdjust="spacingAndGlyphs">Inhalation</text>
<text x="702" y="313.7" font-size="13" font-weight="normal" fill="#4c4c4c" stroke="#4c4c4c" stroke-width="0.45" textLength="40" lengthAdjust="spacingAndGlyphs">1–2 µm</text>
<text x="836" y="541.0" font-size="14" font-weight="normal" fill="#4c4c4c" stroke="#4c4c4c" stroke-width="0.45" textLength="56" lengthAdjust="spacingAndGlyphs">Giant cell</text>
<text x="934" y="575.0" font-size="14" font-weight="normal" fill="#4c4c4c" stroke="#4c4c4c" stroke-width="0.45" textLength="53" lengthAdjust="spacingAndGlyphs">Yeast cell</text>
<text x="939" y="673.7" font-size="13" font-weight="normal" fill="#4c4c4c" stroke="#4c4c4c" stroke-width="0.45" textLength="48" lengthAdjust="spacingAndGlyphs">4–10 µm</text>
<text x="837" y="702.7" font-size="13" font-weight="normal" fill="#4c4c4c" stroke="#4c4c4c" stroke-width="0.45" textLength="57" lengthAdjust="spacingAndGlyphs">25–30 µm</text>
<ellipse cx="721.5" cy="101.5" rx="28.2" ry="31.6" fill="#d4e0f4"/>
<path d="M736.7,101.5L751.2,101.5M736.5,103.9L750.9,106.2M736.1,106.3L750.0,110.9M735.3,108.6L748.5,115.3M734.3,110.7L746.5,119.5M733.0,112.6L743.9,123.3M731.5,114.4L740.9,126.6M729.7,115.8L737.6,129.5M727.8,117.0L733.8,131.8M725.8,117.8L729.9,133.4M723.7,118.4L725.7,134.4M721.5,118.5L721.5,134.8M719.3,118.4L717.3,134.4M717.2,117.8L713.1,133.4M715.2,117.0L709.2,131.8M713.3,115.8L705.4,129.5M711.5,114.4L702.1,126.6M710.0,112.6L699.1,123.3M708.7,110.7L696.5,119.5M707.7,108.6L694.5,115.3M706.9,106.3L693.0,110.9M706.5,103.9L692.1,106.2M706.3,101.5L691.8,101.5M706.5,99.1L692.1,96.8M706.9,96.7L693.0,92.1M707.7,94.4L694.5,87.7M708.7,92.3L696.5,83.5M710.0,90.4L699.1,79.7M711.5,88.6L702.1,76.4M713.3,87.2L705.4,73.5M715.2,86.0L709.2,71.2M717.2,85.2L713.1,69.6M719.3,84.6L717.3,68.6M721.5,84.5L721.5,68.2M723.7,84.6L725.7,68.6M725.8,85.2L729.9,69.6M727.8,86.0L733.8,71.2M729.7,87.2L737.6,73.5M731.5,88.6L740.9,76.4M733.0,90.4L743.9,79.7M734.3,92.3L746.5,83.5M735.3,94.4L748.5,87.7M736.1,96.7L750.0,92.1M736.5,99.1L750.9,96.8" stroke="#6a8ac4" stroke-width="1.8" fill="none"/>
<ellipse cx="721.5" cy="101.5" rx="16.2" ry="18.1" fill="url(#orang)" stroke="#4e3428" stroke-width="1.7"/>
<ellipse cx="726.5" cy="96.5" rx="3" ry="2.5" fill="#e8a070" opacity="0.6"/>
<path d="M706,139 L739,139 M706,135 L706,143 M739,135 L739,143" stroke="#505050" stroke-width="1.6" fill="none"/>
<path d="M756,101 L849,101" fill="none" stroke="#66696d" stroke-width="2.1" stroke-linecap="butt"/>
<path d="M853.0,101.0 L844.5,104.9 L845.5,101.0 L844.5,97.1 Z" fill="#505458"/>
<path d="M895.9,101.9Q900.2,100.1 904.0,105.5M895.2,105.4Q899.7,104.9 902.1,111.2M893.6,108.6Q898.1,109.4 898.8,116.1M891.2,111.3Q895.4,113.3 894.5,119.9M888.3,113.2Q891.9,116.3 889.4,122.5M885.1,114.2Q887.8,118.2 883.9,123.5M881.7,114.3Q883.3,119.0 878.3,123.0M878.4,113.5Q878.9,118.4 873.0,120.9M875.4,111.8Q874.7,116.7 868.4,117.4M872.9,109.3Q871.0,113.8 864.8,112.8M871.1,106.2Q868.2,110.0 862.5,107.4M870.2,102.7Q866.4,105.6 861.5,101.5M870.1,99.1Q865.8,100.9 862.0,95.5M870.8,95.6Q866.3,96.1 863.9,89.8M872.4,92.4Q867.9,91.6 867.2,84.9M874.8,89.7Q870.6,87.7 871.5,81.1M877.7,87.8Q874.1,84.7 876.6,78.5M880.9,86.8Q878.2,82.8 882.1,77.5M884.3,86.7Q882.7,82.0 887.7,78.0M887.6,87.5Q887.1,82.6 893.0,80.1M890.6,89.2Q891.3,84.3 897.6,83.6M893.1,91.7Q895.0,87.2 901.2,88.2M894.9,94.8Q897.8,91.0 903.5,93.6M895.8,98.3Q899.6,95.4 904.5,99.5" stroke="#6a8cc6" stroke-width="1.5" fill="none" stroke-linecap="round"/>
<path d="M883,87 C888,87 892,89 894.5,92 C897,96 896,104 894,108 C891,112 887,114.5 883,114.5 C878,114 874,111 872,107 C869.5,102 870,95 873,91 C876,88 879,87 883,87 Z" fill="url(#orang)" stroke="#6a4030" stroke-width="1.7"/>
<path d="M869,133 L896,133 M869,129 L869,137 M896,129 L896,137" stroke="#505050" stroke-width="1.6" fill="none"/>
<path d="M816,448 C816,420 817,395 819,380 C822,350 826,330 836,315 C848,300 870,296 896,293 C904,291 908,288 908,282 L907,268 C900,268 890,268 884,265 C880,262 881,255 881,251 C879,249 879,246 882,244 C879,242 878,239 880,236 C881,234 879,231 876,230 C873,229 873,225 876,222 C881,215 885,210 886,203 C886,196 887,190 890,183 C896,170 912,164 930,164 C955,164 975,182 976,208 C977,228 972,240 964,250 C958,257 953,265 953,276 C953,286 960,292 972,296 C995,302 1015,315 1022,340 C1026,360 1026,400 1026,448 Z" fill="#d9d6c6"/>
<path d="M816,448 C816,420 817,395 819,380 C822,350 826,330 836,315 C848,300 870,296 896,293 C904,291 908,288 908,282 L907,268 C900,268 890,268 884,265 C880,262 881,255 881,251 C879,249 879,246 882,244 C879,242 878,239 880,236 C881,234 879,231 876,230 C873,229 873,225 876,222 C881,215 885,210 886,203 C886,196 887,190 890,183 C896,170 912,164 930,164 C955,164 975,182 976,208 C977,228 972,240 964,250 C958,257 953,265 953,276 C953,286 960,292 972,296 C995,302 1015,315 1022,340 C1026,360 1026,400 1026,448" fill="none" stroke="#6a6a62" stroke-width="1.7"/>
<path d="M885,211 C889,208 892,207 895,207.5 C899,208 901,211 902.5,213 C906,216 909,218 912.5,218.75 C920,221 927,223 930,226 C933,228 935,230 935,233 L935,252 C935,260 932,265 932,271 C932,278 933.75,284 933.75,290 L934,352 L920.5,352 L921,290 C921,284 919.4,280 919.4,277.5 C919.4,272 921.25,268 921.25,265 L921.25,248 C920,244 919,242.5 918.75,242.5 C912,241.5 906,241 903.75,241.25 C900,243 897,246 895,247.5 C893,246 892,245 891,245 C889,244 887,243.5 886,243.75 C884,244.5 882,245 880.6,245.6 L878.75,240 C878.5,235 878.5,232 878.75,230.6 C880,226 882,216 885,211 Z" fill="#f3eedd" stroke="#6a6a62" stroke-width="1.5"/>
<path d="M878.75,228 C885,226.5 891,226 895,226.5 C903,227.5 910,230 916,233.75 C920,236 923,239 925,245.6 C922,243 920,241 918.75,240 C912,237.5 908,236.5 903.75,236.25 C897,236 891,236 881.9,237.5 Z" fill="#dbd3ca" stroke="#6a6a62" stroke-width="1.4"/>
<line x1="921" y1="292.0" x2="933.5" y2="292.0" stroke="#6a6a62" stroke-width="1"/>
<line x1="921" y1="296.3" x2="933.5" y2="296.3" stroke="#6a6a62" stroke-width="1"/>
<line x1="921" y1="300.6" x2="933.5" y2="300.6" stroke="#6a6a62" stroke-width="1"/>
<line x1="921" y1="304.9" x2="933.5" y2="304.9" stroke="#6a6a62" stroke-width="1"/>
<line x1="921" y1="309.2" x2="933.5" y2="309.2" stroke="#6a6a62" stroke-width="1"/>
<line x1="921" y1="313.5" x2="933.5" y2="313.5" stroke="#6a6a62" stroke-width="1"/>
<line x1="921" y1="317.8" x2="933.5" y2="317.8" stroke="#6a6a62" stroke-width="1"/>
<line x1="921" y1="322.1" x2="933.5" y2="322.1" stroke="#6a6a62" stroke-width="1"/>
<line x1="921" y1="326.4" x2="933.5" y2="326.4" stroke="#6a6a62" stroke-width="1"/>
<line x1="921" y1="330.7" x2="933.5" y2="330.7" stroke="#6a6a62" stroke-width="1"/>
<line x1="921" y1="335.0" x2="933.5" y2="335.0" stroke="#6a6a62" stroke-width="1"/>
<line x1="921" y1="339.3" x2="933.5" y2="339.3" stroke="#6a6a62" stroke-width="1"/>
<path d="M921,343 L933.5,353 M933.5,343 L921,353" stroke="#6a6a62" stroke-width="1.1"/>
<path d="M911.2,319.3 C900,322 892,330 888.7,336 C882,346 878,352 877.5,358.6 C876,368 875.6,378 875.6,385 C875,398 873.7,408 873.7,414.9 C874,424 877,432 879.3,435.5 C886,431 893,428 900,426 C908,424 916,423 922.4,422.4 C924,415 924.3,410 924.3,403.6 C924,392 921,382 920.6,373.6 C920,366 918.7,360 918.7,355 C918,345 917,330 915,325 C914,321 913,319.3 911.2,319.3 Z" fill="#f3eedd" stroke="#6a6a62" stroke-width="1.5"/>
<path d="M945,319.3 C954,322 962,330 967.4,336 C972,344 974,352 975,358.6 C976,372 976.8,390 976.8,403.6 C977,415 977,426 976.8,435.5 C970,431 963,428 956,426 C948,423 938,420 931.8,418.6 C930,410 930,400 930,392 C931,382 933,376 933.7,370 C934,362 935.5,356 935.5,351 C936,342 936.5,332 937.4,325 C938,321 941,319.3 945,319.3 Z" fill="#f3eedd" stroke="#6a6a62" stroke-width="1.5"/>
<path d="M856,448 C857,438 858,432 860,428 C861,435 862,442 863,448" fill="none" stroke="#6a6a62" stroke-width="1.5"/>
<path d="M984,448 C985,430 986,410 987,400 C989,415 990,435 991,448" fill="none" stroke="#6a6a62" stroke-width="1.5"/>
<path d="M858,120 C838,155 840,210 870,236" fill="none" stroke="#66696d" stroke-width="2.1" stroke-linecap="butt"/>
<path d="M873.0,238.0 L863.9,236.0 L867.0,233.5 L868.5,229.8 Z" fill="#505458"/>
<path d="M720.5,220 L730,223 L736,237 L738,263 L730,278 L722,281 L711,278 L704.5,263 L706,237 L710,225 Z" fill="#8e9fd4" stroke="#3e4674" stroke-width="1.6" stroke-linejoin="round"/>
<circle cx="710" cy="225" r="1.6" fill="#3e4674"/>
<circle cx="730" cy="223" r="1.6" fill="#3e4674"/>
<circle cx="736" cy="237" r="1.6" fill="#3e4674"/>
<circle cx="738" cy="263" r="1.6" fill="#3e4674"/>
<circle cx="730" cy="278" r="1.6" fill="#3e4674"/>
<circle cx="711" cy="278" r="1.6" fill="#3e4674"/>
<circle cx="704.5" cy="263" r="1.6" fill="#3e4674"/>
<circle cx="706" cy="237" r="1.6" fill="#3e4674"/>
<circle cx="737" cy="250" r="1.6" fill="#3e4674"/>
<circle cx="705" cy="250" r="1.6" fill="#3e4674"/>
<g/>
<path d="M722,235 C728,238 733,247 733,256 C733,267 727,275 721,275 C714,275 709,267 709,256 C709,246 715,236 722,235 Z" fill="url(#orang)" stroke="#6a4030" stroke-width="1.5"/>
<path d="M704,292 L738,292 M704,288 L704,296 M738,288 L738,296" stroke="#505050" stroke-width="1.6" fill="none"/>
<path d="M746,258 C790,280 835,270 869,250" fill="none" stroke="#66696d" stroke-width="2.1" stroke-linecap="butt"/>
<path d="M873.0,249.0 L866.0,255.2 L865.8,251.1 L863.7,247.7 Z" fill="#505458"/>
<circle cx="894" cy="412" r="3.5" fill="#f3eedd" stroke="#666" stroke-width="1.4"/>
<path d="M891,415.5 L817,530 M897,415.5 L969,527" stroke="#666" stroke-width="2" stroke-dasharray="3.5,3" fill="none"/>
<ellipse cx="894" cy="619" rx="110.5" ry="121" fill="none" stroke="#666" stroke-width="2" stroke-dasharray="3.5,3"/>
<ellipse cx="866" cy="614" rx="58" ry="61" fill="#eef1f8"/>
<path d="M900.0,615.9L900.6,618.1L901.3,618.9L902.1,618.0L903.0,615.9L903.9,613.9L904.7,613.2L905.4,614.3L906.0,616.6L906.7,618.6L907.4,619.2L908.3,618.1L909.1,615.9L910.0,614.0L910.8,613.6L911.5,614.9L912.1,617.2L912.8,619.2L913.5,619.5L914.4,618.1L915.3,615.9L916.1,614.1L916.9,614.0L917.6,615.6L918.2,617.9L918.9,619.6L919.7,619.7L920.5,618.2L921.4,615.9L922.2,614.3L923.0,614.5L923.6,616.2L924.3,618.6L925.0,620.1L925.8,619.9L926.6,618.2L927.5,615.9M899.1,622.1L899.4,624.4L900.0,625.4L900.9,624.6L902.1,622.7L903.3,620.8L904.2,620.3L904.7,621.6L905.0,623.9L905.3,626.0L905.9,626.8L906.9,625.8L908.2,623.8L909.3,622.1L910.2,621.8L910.6,623.3L910.9,625.7L911.2,627.7L911.9,628.2L913.0,627.0L914.2,624.9L915.3,623.4L916.1,623.4L916.5,625.0L916.8,627.5L917.2,629.3L917.9,629.5L919.0,628.1L920.2,626.1L921.3,624.7L922.0,625.0L922.4,626.8L922.7,629.2L923.1,630.9L923.9,630.8L925.0,629.3L926.2,627.2M897.3,628.1L897.2,630.4L897.6,631.4L898.7,630.9L900.2,629.2L901.6,627.6L902.6,627.3L902.9,628.6L902.8,630.9L902.8,633.1L903.2,633.9L904.4,633.2L905.9,631.4L907.3,629.9L908.2,629.8L908.4,631.4L908.3,633.8L908.3,635.8L908.9,636.4L910.1,635.4L911.7,633.6L913.0,632.3L913.8,632.4L913.9,634.2L913.8,636.6L913.9,638.5L914.6,638.8L915.9,637.7L917.4,635.9L918.7,634.7L919.4,635.1L919.5,637.0L919.3,639.4L919.5,641.1L920.2,641.2L921.6,639.9L923.2,638.1M894.5,633.6L894.1,635.9L894.3,637.0L895.4,636.6L897.2,635.2L898.9,634.0L899.9,633.8L900.0,635.1L899.5,637.4L899.1,639.6L899.4,640.5L900.7,639.9L902.5,638.5L904.1,637.3L905.0,637.4L904.9,638.9L904.4,641.3L904.1,643.3L904.6,644.0L905.9,643.2L907.8,641.7L909.3,640.7L910.1,641.0L909.9,642.7L909.4,645.1L909.1,646.9L909.8,647.4L911.2,646.5L913.1,645.0L914.5,644.1L915.1,644.6L914.9,646.5L914.3,648.9L914.2,650.6L915.0,650.8L916.5,649.7L918.3,648.3M890.9,638.6L890.1,640.7L890.1,641.9L891.3,641.7L893.2,640.7L895.1,639.7L896.1,639.7L896.0,641.1L895.1,643.2L894.4,645.3L894.6,646.2L895.9,645.9L897.9,644.8L899.7,644.0L900.6,644.2L900.3,645.7L899.4,647.9L898.7,649.8L899.1,650.6L900.6,650.1L902.6,649.0L904.3,648.3L905.0,648.7L904.5,650.3L903.6,652.6L903.1,654.4L903.6,655.0L905.2,654.3L907.3,653.2L908.9,652.6L909.4,653.2L908.8,655.0L907.9,657.2L907.5,658.9L908.2,659.3L909.9,658.5L911.9,657.4M886.5,642.8L885.3,644.7L885.1,645.9L886.3,645.9L888.4,645.3L890.5,644.7L891.4,644.9L891.1,646.2L889.9,648.2L888.8,650.0L888.8,651.0L890.2,650.9L892.4,650.2L894.3,649.7L895.1,650.1L894.6,651.5L893.3,653.5L892.4,655.3L892.6,656.1L894.1,655.9L896.3,655.2L898.1,654.8L898.7,655.3L898.0,656.9L896.7,658.9L895.9,660.6L896.3,661.3L898.0,660.9L900.2,660.2L901.9,659.9L902.3,660.6L901.4,662.2L900.2,664.3L899.5,665.8L900.1,666.3L901.9,665.9L904.1,665.2M881.4,646.1L880.0,647.8L879.6,648.9L880.8,649.2L883.0,648.9L885.1,648.7L886.0,649.1L885.4,650.3L883.9,652.0L882.6,653.7L882.4,654.7L883.8,654.8L886.0,654.5L888.0,654.4L888.7,654.9L888.0,656.2L886.4,658.0L885.2,659.5L885.3,660.4L886.8,660.5L889.1,660.2L890.9,660.1L891.4,660.7L890.5,662.1L888.9,663.9L887.8,665.4L888.1,666.1L889.8,666.1L892.1,665.8L893.8,665.8L894.1,666.5L893.0,668.0L891.4,669.8L890.5,671.2L891.0,671.8L892.9,671.7L895.2,671.4M875.9,648.5L874.2,649.9L873.7,650.9L874.8,651.4L877.0,651.5L879.1,651.7L879.9,652.2L879.2,653.3L877.4,654.8L875.8,656.1L875.5,657.1L876.8,657.5L879.1,657.6L881.1,657.8L881.7,658.5L880.7,659.6L878.9,661.1L877.4,662.4L877.4,663.2L878.9,663.6L881.2,663.7L883.0,664.0L883.4,664.7L882.2,665.9L880.4,667.3L879.1,668.6L879.3,669.4L880.9,669.7L883.3,669.8L884.9,670.1L885.1,670.9L883.7,672.2L881.9,673.6L880.8,674.8L881.2,675.6L883.0,675.8L885.3,675.9M870.1,649.8L868.2,650.8L867.6,651.7L868.5,652.4L870.7,653.0L872.7,653.5L873.5,654.2L872.6,655.2L870.6,656.2L868.8,657.3L868.3,658.2L869.5,658.8L871.7,659.4L873.7,659.9L874.2,660.7L873.0,661.6L871.0,662.7L869.3,663.7L869.1,664.6L870.6,665.2L872.8,665.7L874.6,666.3L874.8,667.1L873.5,668.1L871.4,669.2L869.9,670.2L870.0,671.0L871.6,671.6L873.9,672.1L875.4,672.7L875.5,673.6L873.9,674.6L871.9,675.7L870.6,676.6L870.9,677.4L872.6,678.0L874.9,678.5M864.2,650.0L862.2,650.7L861.3,651.5L862.2,652.3L864.2,653.2L866.1,654.2L866.8,655.0L865.7,655.7L863.6,656.4L861.6,657.1L861.1,657.9L862.1,658.8L864.2,659.7L866.0,660.6L866.4,661.5L865.1,662.2L862.9,662.9L861.1,663.6L860.8,664.4L862.1,665.3L864.2,666.2L865.9,667.1L866.0,667.9L864.5,668.7L862.3,669.3L860.7,670.1L860.6,670.9L862.1,671.8L864.2,672.7L865.7,673.6L865.6,674.4L863.9,675.1L861.7,675.8L860.2,676.5L860.4,677.3L862.1,678.2L864.2,679.2M858.4,649.1L856.2,649.4L855.3,650.0L856.0,651.0L857.8,652.3L859.6,653.6L860.0,654.5L858.9,655.1L856.7,655.4L854.6,655.7L853.9,656.3L854.9,657.4L856.8,658.7L858.4,659.9L858.6,660.8L857.2,661.3L855.0,661.6L853.1,662.0L852.6,662.7L853.8,663.8L855.7,665.1L857.2,666.3L857.2,667.1L855.6,667.6L853.3,667.8L851.6,668.2L851.3,669.0L852.7,670.2L854.6,671.5L855.9,672.6L855.7,673.4L853.9,673.8L851.6,674.1L850.1,674.5L850.1,675.4L851.6,676.5L853.5,677.9M852.7,647.2L850.6,647.1L849.5,647.5L850.1,648.6L851.7,650.2L853.2,651.8L853.5,652.8L852.3,653.1L850.0,653.0L848.0,653.0L847.2,653.5L847.9,654.7L849.6,656.3L851.0,657.8L851.1,658.7L849.6,659.0L847.3,658.8L845.4,658.9L844.9,659.5L845.8,660.8L847.5,662.4L848.7,663.9L848.6,664.7L847.0,664.8L844.7,664.7L842.9,664.8L842.6,665.5L843.7,666.9L845.4,668.5L846.5,669.9L846.1,670.6L844.3,670.7L842.0,670.5L840.4,670.7L840.3,671.5L841.6,672.9L843.3,674.6M847.5,644.2L845.4,643.7L844.3,644.0L844.6,645.2L846.0,647.0L847.2,648.8L847.3,649.9L846.1,650.0L843.9,649.5L841.9,649.1L841.0,649.4L841.5,650.7L842.9,652.7L844.0,654.4L844.0,655.3L842.5,655.3L840.3,654.7L838.4,654.4L837.7,654.9L838.4,656.3L839.8,658.3L840.8,659.9L840.6,660.7L838.9,660.5L836.7,660.0L834.9,659.7L834.5,660.4L835.4,661.9L836.8,663.9L837.6,665.4L837.1,666.1L835.4,665.8L833.1,665.2L831.5,665.1L831.3,665.9L832.3,667.6L833.7,669.5M842.8,640.4L840.8,639.5L839.7,639.5L839.9,640.8L840.8,642.8L841.8,644.9L841.7,645.9L840.5,645.8L838.4,644.9L836.5,644.1L835.6,644.3L835.9,645.7L836.9,647.8L837.7,649.7L837.5,650.6L836.1,650.3L834.0,649.4L832.2,648.7L831.5,649.1L831.9,650.6L833.0,652.8L833.7,654.6L833.3,655.3L831.7,654.9L829.6,653.9L827.9,653.3L827.4,653.9L828.0,655.6L829.0,657.7L829.6,659.4L829.0,660.0L827.3,659.4L825.2,658.4L823.7,658.0L823.3,658.7L824.0,660.5L825.1,662.7M838.8,635.7L837.0,634.5L835.9,634.3L835.9,635.5L836.5,637.8L837.1,639.9L836.9,641.0L835.6,640.6L833.8,639.3L832.0,638.2L831.1,638.2L831.1,639.7L831.8,641.9L832.3,644.0L832.0,644.8L830.6,644.3L828.7,642.9L827.0,641.9L826.2,642.2L826.4,643.8L827.1,646.1L827.5,648.0L827.0,648.7L825.5,647.9L823.6,646.6L822.1,645.7L821.4,646.2L821.7,647.9L822.4,650.3L822.7,652.0L822.1,652.5L820.5,651.6L818.6,650.2L817.1,649.5L816.6,650.2L817.0,652.1L817.7,654.4M835.7,630.4L834.1,628.8L833.1,628.5L832.8,629.7L833.1,632.0L833.3,634.2L832.9,635.2L831.7,634.6L830.1,633.0L828.6,631.6L827.6,631.4L827.5,632.9L827.8,635.2L827.9,637.3L827.4,638.1L826.2,637.3L824.5,635.6L823.0,634.3L822.2,634.4L822.2,636.1L822.5,638.5L822.5,640.4L821.9,641.0L820.6,640.0L818.9,638.3L817.5,637.1L816.8,637.5L816.8,639.3L817.2,641.7L817.2,643.5L816.4,643.8L815.0,642.6L813.4,640.9L812.0,640.0L811.4,640.5L811.5,642.5L811.8,644.9M833.5,624.5L832.2,622.7L831.2,622.2L830.7,623.3L830.6,625.6L830.5,627.9L829.9,628.8L828.9,628.0L827.5,626.1L826.3,624.4L825.4,624.1L825.0,625.5L824.9,627.9L824.7,630.0L824.1,630.6L823.0,629.6L821.6,627.7L820.4,626.1L819.5,626.1L819.2,627.7L819.1,630.1L818.9,632.0L818.2,632.4L817.0,631.2L815.7,629.2L814.5,627.9L813.7,628.1L813.4,629.8L813.4,632.3L813.1,634.1L812.3,634.2L811.1,632.8L809.7,630.8L808.6,629.6L807.9,630.1L807.7,632.0L807.6,634.5M832.3,618.4L831.3,616.4L830.4,615.6L829.7,616.7L829.2,619.0L828.7,621.1L828.0,621.9L827.2,620.9L826.1,618.8L825.2,616.9L824.3,616.5L823.7,617.8L823.2,620.1L822.7,622.1L822.0,622.7L821.1,621.5L820.0,619.3L819.1,617.5L818.3,617.3L817.7,618.8L817.2,621.2L816.6,623.1L815.9,623.4L815.0,621.9L813.9,619.8L813.0,618.2L812.2,618.2L811.7,619.9L811.2,622.3L810.6,624.0L809.8,624.0L808.9,622.4L807.8,620.2L806.9,618.8L806.2,619.2L805.6,621.0L805.1,623.4M832.0,612.1L831.4,609.9L830.7,609.1L829.9,610.0L829.0,612.1L828.1,614.1L827.3,614.8L826.6,613.7L826.0,611.4L825.3,609.4L824.6,608.8L823.7,609.9L822.9,612.1L822.0,614.0L821.2,614.4L820.5,613.1L819.9,610.8L819.2,608.8L818.5,608.5L817.6,609.9L816.7,612.1L815.9,613.9L815.1,614.0L814.4,612.4L813.8,610.1L813.1,608.4L812.3,608.3L811.5,609.8L810.6,612.1L809.8,613.7L809.0,613.5L808.4,611.8L807.7,609.4L807.0,607.9L806.2,608.1L805.4,609.8L804.5,612.1M832.9,605.9L832.6,603.6L832.0,602.6L831.1,603.4L829.9,605.3L828.7,607.2L827.8,607.7L827.3,606.4L827.0,604.1L826.7,602.0L826.1,601.2L825.1,602.2L823.8,604.2L822.7,605.9L821.8,606.2L821.4,604.7L821.1,602.3L820.8,600.3L820.1,599.8L819.0,601.0L817.8,603.1L816.7,604.6L815.9,604.6L815.5,603.0L815.2,600.5L814.8,598.7L814.1,598.5L813.0,599.9L811.8,601.9L810.7,603.3L810.0,603.0L809.6,601.2L809.3,598.8L808.9,597.1L808.1,597.2L807.0,598.7L805.8,600.8M834.7,599.9L834.8,597.6L834.4,596.6L833.3,597.1L831.8,598.8L830.4,600.4L829.4,600.7L829.1,599.4L829.2,597.1L829.2,594.9L828.8,594.1L827.6,594.8L826.1,596.6L824.7,598.1L823.8,598.2L823.6,596.6L823.7,594.2L823.7,592.2L823.1,591.6L821.9,592.6L820.3,594.4L819.0,595.7L818.2,595.6L818.1,593.8L818.2,591.4L818.1,589.5L817.4,589.2L816.1,590.3L814.6,592.1L813.3,593.3L812.6,592.9L812.5,591.0L812.7,588.6L812.5,586.9L811.8,586.8L810.4,588.1L808.8,589.9M837.5,594.4L837.9,592.1L837.7,591.0L836.6,591.4L834.8,592.8L833.1,594.0L832.1,594.2L832.0,592.9L832.5,590.6L832.9,588.4L832.6,587.5L831.3,588.1L829.5,589.5L827.9,590.7L827.0,590.6L827.1,589.1L827.6,586.7L827.9,584.7L827.4,584.0L826.1,584.8L824.2,586.3L822.7,587.3L821.9,587.0L822.1,585.3L822.6,582.9L822.9,581.1L822.2,580.6L820.8,581.5L818.9,583.0L817.5,583.9L816.9,583.4L817.1,581.5L817.7,579.1L817.8,577.4L817.0,577.2L815.5,578.3L813.7,579.7M841.1,589.4L841.9,587.3L841.9,586.1L840.7,586.3L838.8,587.3L836.9,588.3L835.9,588.3L836.0,586.9L836.9,584.8L837.6,582.7L837.4,581.8L836.1,582.1L834.1,583.2L832.3,584.0L831.4,583.8L831.7,582.3L832.6,580.1L833.3,578.2L832.9,577.4L831.4,577.9L829.4,579.0L827.7,579.7L827.0,579.3L827.5,577.7L828.4,575.4L828.9,573.6L828.4,573.0L826.8,573.7L824.7,574.8L823.1,575.4L822.6,574.8L823.2,573.0L824.1,570.8L824.5,569.1L823.8,568.7L822.1,569.5L820.1,570.6M845.5,585.2L846.7,583.3L846.9,582.1L845.7,582.1L843.6,582.7L841.5,583.3L840.6,583.1L840.9,581.8L842.1,579.8L843.2,578.0L843.2,577.0L841.8,577.1L839.6,577.8L837.7,578.3L836.9,577.9L837.4,576.5L838.7,574.5L839.6,572.7L839.4,571.9L837.9,572.1L835.7,572.8L833.9,573.2L833.3,572.7L834.0,571.1L835.3,569.1L836.1,567.4L835.7,566.7L834.0,567.1L831.8,567.8L830.1,568.1L829.7,567.4L830.6,565.8L831.8,563.7L832.5,562.2L831.9,561.7L830.1,562.1L827.9,562.8M850.6,581.9L852.0,580.2L852.4,579.1L851.2,578.8L849.0,579.1L846.9,579.3L846.0,578.9L846.6,577.7L848.1,576.0L849.4,574.3L849.6,573.3L848.2,573.2L846.0,573.5L844.0,573.6L843.3,573.1L844.0,571.8L845.6,570.0L846.8,568.5L846.7,567.6L845.2,567.5L842.9,567.8L841.1,567.9L840.6,567.3L841.5,565.9L843.1,564.1L844.2,562.6L843.9,561.9L842.2,561.9L839.9,562.2L838.2,562.2L837.9,561.5L839.0,560.0L840.6,558.2L841.5,556.8L841.0,556.2L839.1,556.3L836.8,556.6M856.1,579.5L857.8,578.1L858.3,577.1L857.2,576.6L855.0,576.5L852.9,576.3L852.1,575.8L852.8,574.7L854.6,573.2L856.2,571.9L856.5,570.9L855.2,570.5L852.9,570.4L850.9,570.2L850.3,569.5L851.3,568.4L853.1,566.9L854.6,565.6L854.6,564.8L853.1,564.4L850.8,564.3L849.0,564.0L848.6,563.3L849.8,562.1L851.6,560.7L852.9,559.4L852.7,558.6L851.1,558.3L848.7,558.2L847.1,557.9L846.9,557.1L848.3,555.8L850.1,554.4L851.2,553.2L850.8,552.4L849.0,552.2L846.7,552.1M861.9,578.2L863.8,577.2L864.4,576.3L863.5,575.6L861.3,575.0L859.3,574.5L858.5,573.8L859.4,572.8L861.4,571.8L863.2,570.7L863.7,569.8L862.5,569.2L860.3,568.6L858.3,568.1L857.8,567.3L859.0,566.4L861.0,565.3L862.7,564.3L862.9,563.4L861.4,562.8L859.2,562.3L857.4,561.7L857.2,560.9L858.5,559.9L860.6,558.8L862.1,557.8L862.0,557.0L860.4,556.4L858.1,555.9L856.6,555.3L856.5,554.4L858.1,553.4L860.1,552.3L861.4,551.4L861.1,550.6L859.4,550.0L857.1,549.5M867.8,578.0L869.8,577.3L870.7,576.5L869.8,575.7L867.8,574.8L865.9,573.8L865.2,573.0L866.3,572.3L868.4,571.6L870.4,570.9L870.9,570.1L869.9,569.2L867.8,568.3L866.0,567.4L865.6,566.5L866.9,565.8L869.1,565.1L870.9,564.4L871.2,563.6L869.9,562.7L867.8,561.8L866.1,560.9L866.0,560.1L867.5,559.3L869.7,558.7L871.3,557.9L871.4,557.1L869.9,556.2L867.8,555.3L866.3,554.4L866.4,553.6L868.1,552.9L870.3,552.2L871.8,551.5L871.6,550.7L869.9,549.8L867.8,548.8M873.6,578.9L875.8,578.6L876.7,578.0L876.0,577.0L874.2,575.7L872.4,574.4L872.0,573.5L873.1,572.9L875.3,572.6L877.4,572.3L878.1,571.7L877.1,570.6L875.2,569.3L873.6,568.1L873.4,567.2L874.8,566.7L877.0,566.4L878.9,566.0L879.4,565.3L878.2,564.2L876.3,562.9L874.8,561.7L874.8,560.9L876.4,560.4L878.7,560.2L880.4,559.8L880.7,559.0L879.3,557.8L877.4,556.5L876.1,555.4L876.3,554.6L878.1,554.2L880.4,553.9L881.9,553.5L881.9,552.6L880.4,551.5L878.5,550.1M879.3,580.8L881.4,580.9L882.5,580.5L881.9,579.4L880.3,577.8L878.8,576.2L878.5,575.2L879.7,574.9L882.0,575.0L884.0,575.0L884.8,574.5L884.1,573.3L882.4,571.7L881.0,570.2L880.9,569.3L882.4,569.0L884.7,569.2L886.6,569.1L887.1,568.5L886.2,567.2L884.5,565.6L883.3,564.1L883.4,563.3L885.0,563.2L887.3,563.3L889.1,563.2L889.4,562.5L888.3,561.1L886.6,559.5L885.5,558.1L885.9,557.4L887.7,557.3L890.0,557.5L891.6,557.3L891.7,556.5L890.4,555.1L888.7,553.4M884.5,583.8L886.6,584.3L887.7,584.0L887.4,582.8L886.0,581.0L884.8,579.2L884.7,578.1L885.9,578.0L888.1,578.5L890.1,578.9L891.0,578.6L890.5,577.3L889.1,575.3L888.0,573.6L888.0,572.7L889.5,572.7L891.7,573.3L893.6,573.6L894.3,573.1L893.6,571.7L892.2,569.7L891.2,568.1L891.4,567.3L893.1,567.5L895.3,568.0L897.1,568.3L897.5,567.6L896.6,566.1L895.2,564.1L894.4,562.6L894.9,561.9L896.6,562.2L898.9,562.8L900.5,562.9L900.7,562.1L899.7,560.4L898.3,558.5M889.2,587.6L891.2,588.5L892.3,588.5L892.1,587.2L891.2,585.2L890.2,583.1L890.3,582.1L891.5,582.2L893.6,583.1L895.5,583.9L896.4,583.7L896.1,582.3L895.1,580.2L894.3,578.3L894.5,577.4L895.9,577.7L898.0,578.6L899.8,579.3L900.5,578.9L900.1,577.4L899.0,575.2L898.3,573.4L898.7,572.7L900.3,573.1L902.4,574.1L904.1,574.7L904.6,574.1L904.0,572.4L903.0,570.3L902.4,568.6L903.0,568.0L904.7,568.6L906.8,569.6L908.3,570.0L908.7,569.3L908.0,567.5L906.9,565.3M893.2,592.3L895.0,593.5L896.1,593.7L896.1,592.5L895.5,590.2L894.9,588.1L895.1,587.0L896.4,587.4L898.2,588.7L900.0,589.8L900.9,589.8L900.9,588.3L900.2,586.1L899.7,584.0L900.0,583.2L901.4,583.7L903.3,585.1L905.0,586.1L905.8,585.8L905.6,584.2L904.9,581.9L904.5,580.0L905.0,579.3L906.5,580.1L908.4,581.4L909.9,582.3L910.6,581.8L910.3,580.1L909.6,577.7L909.3,576.0L909.9,575.5L911.5,576.4L913.4,577.8L914.9,578.5L915.4,577.8L915.0,575.9L914.3,573.6M896.3,597.6L897.9,599.2L898.9,599.5L899.2,598.3L898.9,596.0L898.7,593.8L899.1,592.8L900.3,593.4L901.9,595.0L903.4,596.4L904.4,596.6L904.5,595.1L904.2,592.8L904.1,590.7L904.6,589.9L905.8,590.7L907.5,592.4L909.0,593.7L909.8,593.6L909.8,591.9L909.5,589.5L909.5,587.6L910.1,587.0L911.4,588.0L913.1,589.7L914.5,590.9L915.2,590.5L915.2,588.7L914.8,586.3L914.8,584.5L915.6,584.2L917.0,585.4L918.6,587.1L920.0,588.0L920.6,587.5L920.5,585.5L920.2,583.1M898.5,603.5L899.8,605.3L900.8,605.8L901.3,604.7L901.4,602.4L901.5,600.1L902.1,599.2L903.1,600.0L904.5,601.9L905.7,603.6L906.6,603.9L907.0,602.5L907.1,600.1L907.3,598.0L907.9,597.4L909.0,598.4L910.4,600.3L911.6,601.9L912.5,601.9L912.8,600.3L912.9,597.9L913.1,596.0L913.8,595.6L915.0,596.8L916.3,598.8L917.5,600.1L918.3,599.9L918.6,598.2L918.6,595.7L918.9,593.9L919.7,593.8L920.9,595.2L922.3,597.2L923.4,598.4L924.1,597.9L924.3,596.0L924.4,593.5M899.7,609.6L900.7,611.6L901.6,612.4L902.3,611.3L902.8,609.0L903.3,606.9L904.0,606.1L904.8,607.1L905.9,609.2L906.8,611.1L907.7,611.5L908.3,610.2L908.8,607.9L909.3,605.9L910.0,605.3L910.9,606.5L912.0,608.7L912.9,610.5L913.7,610.7L914.3,609.2L914.8,606.8L915.4,604.9L916.1,604.6L917.0,606.1L918.1,608.2L919.0,609.8L919.8,609.8L920.3,608.1L920.8,605.7L921.4,604.0L922.2,604.0L923.1,605.6L924.2,607.8L925.1,609.2L925.8,608.8L926.4,607.0L926.9,604.6" stroke="#5061a2" stroke-width="1.75" fill="none" stroke-linejoin="round"/>
<ellipse cx="866" cy="613.5" rx="33" ry="35" fill="url(#purp)" stroke="#3e2e62" stroke-width="2"/>
<path d="M878,600 C880,605 882,608 881.5,612" stroke="#8a6ab8" stroke-width="2.2" stroke-linecap="round" fill="none"/><ellipse cx="877.5" cy="597.5" rx="4.8" ry="5.5" fill="#8e6cbc"/>
<path d="M834,688 L899,688 M834,684 L834,692 M899,684 L899,692" stroke="#505050" stroke-width="1.6" fill="none"/>
<ellipse cx="961.8" cy="612" rx="28.0" ry="31.4" fill="#d4e0f4"/>
<path d="M977.0,612.0L991.3,612.0M976.8,614.4L991.0,616.7M976.4,616.8L990.1,621.3M975.6,619.1L988.6,625.7M974.6,621.2L986.6,629.9M973.3,623.1L984.1,633.6M971.8,624.9L981.1,637.0M970.0,626.3L977.7,639.8M968.1,627.5L974.1,642.1M966.1,628.3L970.1,643.7M964.0,628.9L966.0,644.7M961.8,629.0L961.8,645.0M959.6,628.9L957.6,644.7M957.5,628.3L953.5,643.7M955.5,627.5L949.5,642.1M953.6,626.3L945.9,639.8M951.8,624.9L942.5,637.0M950.3,623.1L939.5,633.6M949.0,621.2L937.0,629.9M948.0,619.1L935.0,625.7M947.2,616.8L933.5,621.3M946.8,614.4L932.6,616.7M946.6,612.0L932.3,612.0M946.8,609.6L932.6,607.3M947.2,607.2L933.5,602.7M948.0,604.9L935.0,598.3M949.0,602.8L937.0,594.1M950.3,600.9L939.5,590.4M951.8,599.1L942.5,587.0M953.6,597.7L945.9,584.2M955.5,596.5L949.5,581.9M957.5,595.7L953.5,580.3M959.6,595.1L957.6,579.3M961.8,595.0L961.8,579.0M964.0,595.1L966.0,579.3M966.1,595.7L970.1,580.3M968.1,596.5L974.1,581.9M970.0,597.7L977.7,584.2M971.8,599.1L981.1,587.0M973.3,600.9L984.1,590.4M974.6,602.8L986.6,594.1M975.6,604.9L988.6,598.3M976.4,607.2L990.1,602.7M976.8,609.6L991.0,607.3" stroke="#6a8ac4" stroke-width="1.8" fill="none"/>
<ellipse cx="961.8" cy="612" rx="16.2" ry="18.1" fill="url(#orang)" stroke="#4e3428" stroke-width="1.7"/>
<ellipse cx="966.8" cy="607" rx="3" ry="2.5" fill="#e8a070" opacity="0.6"/>
<path d="M946,652 L979,652 M946,648 L946,656 M979,648 L979,656" stroke="#505050" stroke-width="1.6" fill="none"/>
</svg></body></html>
